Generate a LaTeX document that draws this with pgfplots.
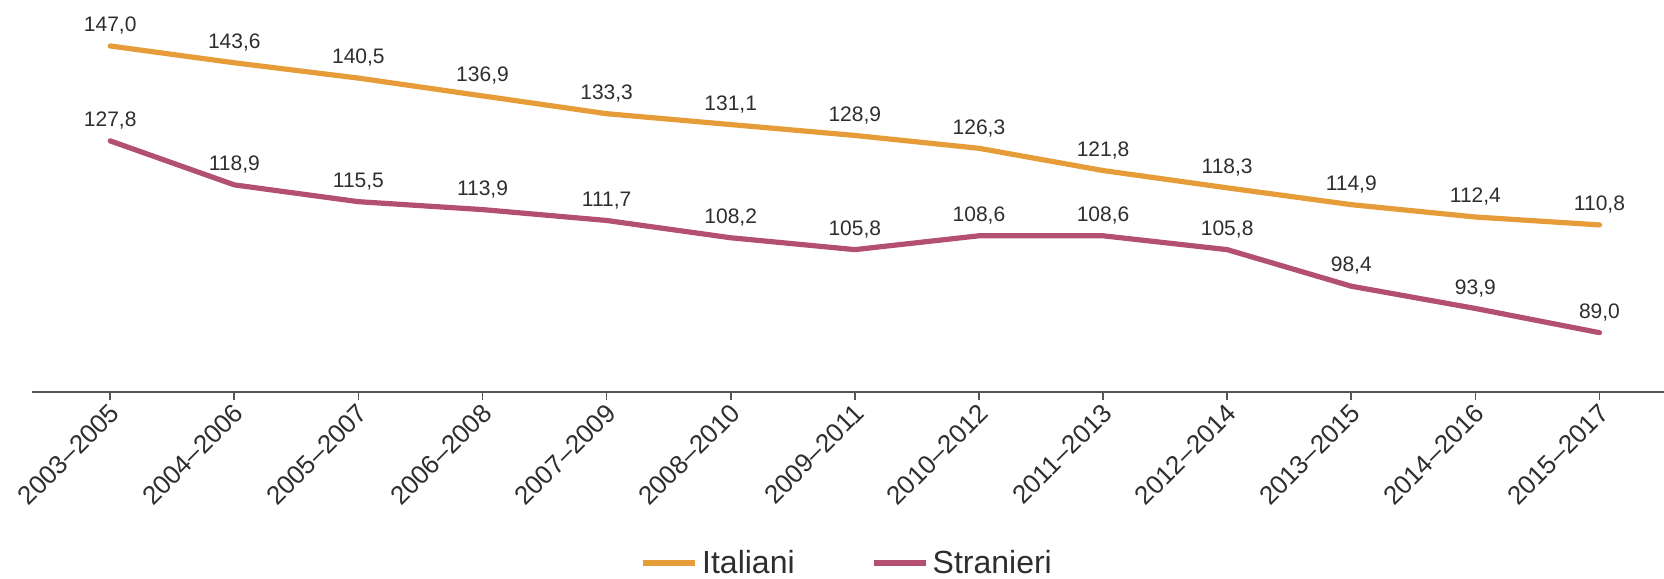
\documentclass[border=0pt]{standalone}
\usepackage{pgfplots}
\pgfplotsset{compat=1.18}
\usepackage{fontspec}
\setmainfont{Liberation Sans}
\definecolor{cIta}{HTML}{E69C38}
\definecolor{cStr}{HTML}{B3506F}
\definecolor{cTxt}{HTML}{2E2E2E}
\definecolor{cAx}{HTML}{555555}

\begin{document}
\begin{tikzpicture}
\begin{axis}[
  name=ax,
  scale only axis, width=816pt, height=196pt,
  xmin=-0.63, xmax=12.52, ymin=77, ymax=156.3,
  axis y line=none, axis x line*=bottom,
  x axis line style={draw=cAx, line width=0.8pt, -},
  xtick={0,...,12},
  xticklabels={2003--2005,2004--2006,2005--2007,2006--2008,2007--2009,2008--2010,2009--2011,2010--2012,2011--2013,2012--2014,2013--2015,2014--2016,2015--2017},
  x tick label style={font=\fontsize{13}{15}\selectfont, text=cTxt, xshift=-1pt, rotate=45, anchor=north east, inner sep=0.5pt},
  major tick length=4pt, tick align=outside, tick style={draw=cAx, line width=0.8pt},
  clip=false,
  nodes near coords,
  nodes near coords style={font=\fontsize{10.5}{12}\selectfont, text=cTxt, anchor=south, inner sep=0pt, yshift=4.5pt,
    /pgf/number format/.cd, fixed, fixed zerofill, precision=1, use comma, assume math mode=true},
  legend columns=2,
  legend style={at={(0.5,-0.436)}, anchor=center, draw=none, fill=none, font=\fontsize{16}{18}\selectfont, text=cTxt,
    /tikz/every even column/.append style={column sep=36pt}},
  legend image code/.code={\draw[#1, line width=3pt, line cap=butt] (0pt,0pt) -- (26pt,0pt);},
]
\addplot[cIta, line width=2.6pt, line cap=round, line join=round, mark=none] coordinates {
(0,147.0)(1,143.6)(2,140.5)(3,136.9)(4,133.3)(5,131.1)(6,128.9)(7,126.3)(8,121.8)(9,118.3)(10,114.9)(11,112.4)(12,110.8)};
\addlegendentry{Italiani}
\addplot[cStr, line width=2.6pt, line cap=round, line join=round, mark=none] coordinates {
(0,127.8)(1,118.9)(2,115.5)(3,113.9)(4,111.7)(5,108.2)(6,105.8)(7,108.6)(8,108.6)(9,105.8)(10,98.4)(11,93.9)(12,89.0)};
\addlegendentry{Stranieri}
\end{axis}
\pgfresetboundingbox
\path[use as bounding box] ([xshift=-16pt]ax.north west) rectangle ([yshift=-93pt]ax.south east);
\end{tikzpicture}
\end{document}
